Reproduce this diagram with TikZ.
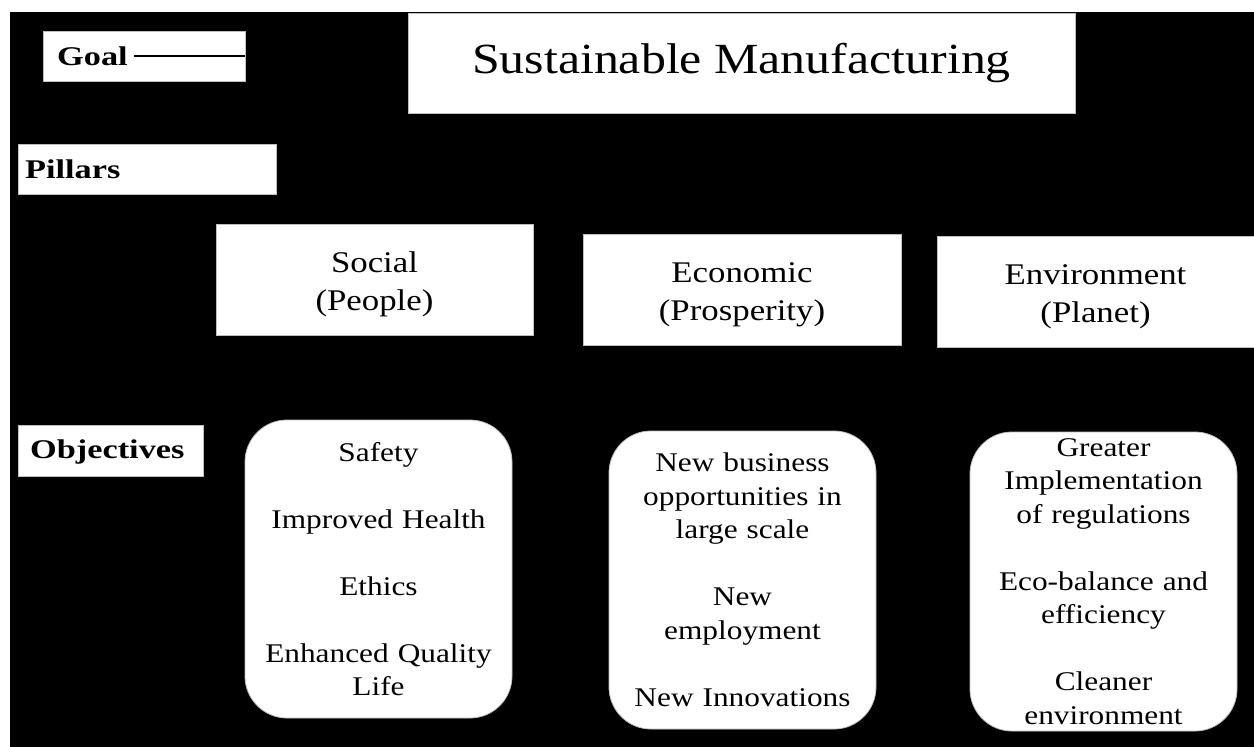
\documentclass[tikz,border=0pt]{standalone}
\usepackage{fontspec}
\setmainfont{Liberation Serif}[FakeStretch=1.16]
\newfontfamily\lblfont{Liberation Serif}[FakeStretch=1.27]
\tikzset{
  wbox/.style={rectangle, fill=white, draw=gray!50, line width=0.8pt, inner sep=0pt},
  rbox/.style={wbox, rounded corners=42pt, align=center, text width=255pt,
    font=\fontsize{27}{33.5}\selectfont},
  pbox/.style={wbox, align=center, font=\fontsize{30}{38}\selectfont},
  lbl/.style={anchor=west, inner sep=0pt, font=\fontsize{27}{30}\lblfont\bfseries},
}
\newcommand{\topstrut}{\rule{0pt}{31pt}}
\begin{document}
\begin{tikzpicture}[x=1pt,y=-1pt]
\useasboundingbox (0,0) rectangle (1254,747);
\fill[black] (10,12) rectangle (1254,747);
% labels
\node[wbox, minimum width=202pt, minimum height=50pt] (goal) at (144,56) {};
\node[lbl] (goaltxt) at (57,56) {Goal};
\draw[line width=1.6pt] ([xshift=6pt]goaltxt.east) -- (goal.east);
\node[wbox, minimum width=258pt, minimum height=50pt] (pillars) at (147,169) {};
\node[lbl] (pillarstxt) at (25,169) {Pillars};
\node[wbox, minimum width=185pt, minimum height=51pt] (objectives) at (110.5,450.5) {};
\node[lbl] (objectivestxt) at (30,452) {Objectives};
% goal
\node[wbox, minimum width=667pt, minimum height=100pt, font=\fontsize{43}{48}\selectfont] (title) at (741.5,63) {Sustainable Manufacturing};
% pillars
\node[pbox, minimum width=317pt, minimum height=111pt] (social) at (374.5,279.5) {\topstrut Social\\(People)};
\node[pbox, minimum width=318pt, minimum height=111pt] (economic) at (742,289.5) {\topstrut Economic\\(Prosperity)};
\node[pbox, minimum width=317pt, minimum height=111pt] (environment) at (1095.5,291.5) {\topstrut Environment\\(Planet)};
% objectives
\node[rbox, minimum width=267pt, minimum height=298pt] (objsocial) at (378.5,569) {Safety\\[33.5pt]Improved Health\\[33.5pt]Ethics\\[33.5pt]Enhanced Quality\\Life};
\node[rbox, minimum width=267pt, minimum height=298pt] (objeconomic) at (742.5,580) {New business\\opportunities in\\large scale\\[33.5pt]New\\employment\\[33.5pt]New Innovations};
\node[rbox, minimum width=267pt, minimum height=299pt] (objenvironment) at (1103.5,581.5) {Greater\\Implementation\\of regulations\\[33.5pt]Eco-balance and\\efficiency\\[33.5pt]Cleaner\\environment};
\end{tikzpicture}
\end{document}
